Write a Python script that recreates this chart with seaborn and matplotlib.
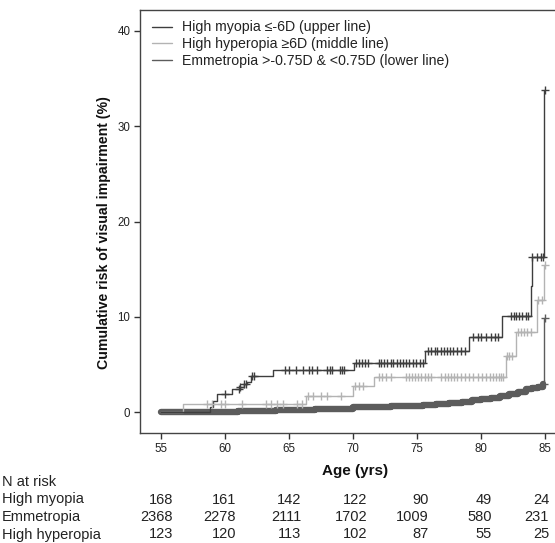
import numpy as np
import pandas as pd
import matplotlib
matplotlib.use("Agg")
import matplotlib.pyplot as plt
import seaborn as sns
from matplotlib.lines import Line2D

# ---------------- data ----------------
# High myopia (upper line): step times (age) and cumulative risk (%)
myo_age = [55.0, 58.85, 59.06, 59.37, 60.55, 61.2, 61.46, 61.73, 62.06, 63.77,
           70.09, 75.67, 79.04, 81.66, 83.91, 84.0, 84.98]
myo_risk = [0.0, 0.6, 1.2, 1.9, 2.4, 2.7, 3.0, 3.2, 3.8, 4.4,
            5.2, 6.4, 7.9, 10.1, 13.2, 16.3, 33.8]
myo_cens = [60.0, 61.07, 61.2, 61.46, 61.6, 62.12, 62.24,
            64.66, 64.97, 65.57, 66.08, 66.56, 66.83, 67.22, 68.0, 68.2, 68.4,
            68.97, 69.13, 69.29, 70.23, 70.46, 70.7, 70.93, 71.15,
            72.03, 72.18, 72.43, 72.66, 72.97, 73.13, 73.45, 73.68, 73.92,
            74.15, 74.39, 74.7, 74.94, 75.25, 75.49,
            75.88, 76.11, 76.43, 76.59, 76.9, 77.13, 77.37, 77.61, 77.84,
            78.16, 78.47, 78.78,
            79.41, 79.8, 80.04, 80.43, 80.82, 81.14, 81.37,
            82.39, 82.63, 82.79, 83.02, 83.26, 83.57, 83.73,
            84.04, 84.36, 84.67, 84.9, 85.0]

# High hyperopia (middle line)
hyp_age = [55.0, 56.75, 66.3, 69.97, 71.62, 82.0, 82.79, 84.36, 84.98]
hyp_risk = [0.0, 0.84, 1.74, 2.76, 3.67, 5.9, 8.45, 11.8, 15.4]
hyp_cens = [58.61, 58.98, 59.71, 60.02, 61.33, 63.22, 63.56, 64.08, 64.55,
            65.65, 65.99, 66.48, 66.91, 67.48, 68.01, 69.05,
            70.15, 70.46, 70.78, 72.03, 72.27, 72.58, 72.97,
            74.15, 74.39, 74.62, 74.86, 75.09, 75.33, 75.65, 75.88, 76.11,
            76.9, 77.21, 77.45, 77.68, 77.92, 78.16, 78.47, 78.78, 79.1, 79.41,
            79.8, 80.12, 80.43, 80.75, 80.98, 81.22, 81.45, 81.61, 81.77,
            82.08, 82.24, 82.47, 82.94, 83.18, 83.34, 83.65, 83.89,
            84.51, 84.75, 85.0]

# Emmetropia (lower line)
emm_age = [55.0, 56.5, 58.0, 59.5, 61.0, 62.5, 64.0, 65.5, 67.0, 68.5, 70.0,
           71.5, 73.0, 74.5, 75.5, 76.5, 77.5, 78.5, 79.3, 80.0, 80.8, 81.5,
           82.2, 82.9, 83.5, 84.0, 84.5, 84.9, 84.98]
emm_risk = [0.0, 0.02, 0.05, 0.08, 0.11, 0.15, 0.2, 0.25, 0.32, 0.38, 0.52,
            0.58, 0.63, 0.68, 0.8, 0.9, 1.0, 1.1, 1.3, 1.4, 1.55, 1.75,
            1.95, 2.15, 2.4, 2.55, 2.7, 2.95, 9.9]
emm_cens = [84.95, 85.0]

# number at risk table
risk_times = [55, 60, 65, 70, 75, 80, 85]
risk_groups = ["High myopia", "Emmetropia", "High hyperopia"]
nrisk_myopia = [168, 161, 142, 122, 90, 49, 24]
nrisk_emmetropia = [2368, 2278, 2111, 1702, 1009, 580, 231]
nrisk_hyperopia = [123, 120, 113, 102, 87, 55, 25]

legend_labels = ["High myopia \u2264-6D (upper line)",
                 "High hyperopia \u22656D (middle line)",
                 "Emmetropia >-0.75D & <0.75D (lower line)"]

# ---------------- style ----------------
sns.set_style("ticks")
plt.rcParams["font.family"] = ["Liberation Sans", "DejaVu Sans"]

C_MYO = "#3e3e3e"
C_HYP = "#b3b3b3"
C_EMM = "#5c5c5c"

W, H = 555, 543
fig = plt.figure(figsize=(W / 100, H / 100), dpi=100)
ax = fig.add_axes([140 / W, (H - 432.8) / H, (562 - 140) / W, (432.8 - 10) / H])


def step_value(ages, risks, t):
    idx = np.searchsorted(np.asarray(ages), np.asarray(t), side="right") - 1
    return np.asarray(risks)[idx]


# Emmetropia: thick band (dense censoring) then thin final jump
sns.lineplot(x=emm_age[:-1], y=emm_risk[:-1], drawstyle="steps-post", color=C_EMM,
             linewidth=4.6, ax=ax, estimator=None)
sns.lineplot(x=emm_age, y=emm_risk, drawstyle="steps-post", color=C_EMM,
             linewidth=1.0, ax=ax, estimator=None)
sns.lineplot(x=hyp_age, y=hyp_risk, drawstyle="steps-post", color=C_HYP,
             linewidth=1.0, ax=ax, estimator=None)
sns.lineplot(x=myo_age, y=myo_risk, drawstyle="steps-post", color=C_MYO,
             linewidth=1.0, ax=ax, estimator=None)

# censor marks
for ages, risks, cens, col in [(myo_age, myo_risk, myo_cens, C_MYO),
                               (hyp_age, hyp_risk, hyp_cens, C_HYP),
                               (emm_age, emm_risk, emm_cens, C_EMM)]:
    cy = step_value(ages, risks, cens)
    ax.plot(cens, cy, linestyle="none", marker="|", markersize=6,
            markeredgewidth=1.0, color=col)
    ax.plot(cens, cy, linestyle="none", marker="_", markersize=5.5,
            markeredgewidth=1.0, color=col)

ax.set_xlim(53.35, 86.35)
ax.set_ylim(-2.15, 42.2)
ax.set_xticks(risk_times)
ax.set_yticks([0, 10, 20, 30, 40])
ax.tick_params(axis="both", labelsize=8.3, length=4, width=1, color="#333333",
               labelcolor="#222222", pad=3)
for sp in ax.spines.values():
    sp.set_color("#444444")
    sp.set_linewidth(1.0)
ax.set_xlabel("")
ax.set_ylabel("")

fig.text(104 / W, 1 - 233 / H, "Cumulative risk of visual impairment (%)",
         rotation=90, ha="center", va="center", fontsize=10.2, fontweight="bold",
         color="#111111")
fig.text(355 / W, 1 - 471 / H, "Age (yrs)", ha="center", va="center",
         fontsize=11, fontweight="bold", color="#111111")

# legend
handles = [Line2D([], [], color=C_MYO, lw=1.0),
           Line2D([], [], color=C_HYP, lw=1.0),
           Line2D([], [], color=C_EMM, lw=1.0)]
leg = ax.legend(handles, legend_labels, loc="upper left", frameon=False,
                bbox_to_anchor=(152 / W, 1 - 20.5 / H), bbox_transform=fig.transFigure,
                borderaxespad=0, borderpad=0, handlelength=1.4, handletextpad=0.72,
                labelspacing=0.2, fontsize=10.2)
for t in leg.get_texts():
    t.set_color("#222222")

# number at risk table
row_y = [482, 499.5, 517, 534.5]
fig.text(2 / W, 1 - row_y[0] / H, "N at risk", ha="left", va="center",
         fontsize=10.5, color="#222222")
col_right = [173, 236, 301, 367, 429, 492, 549]
for r, (name, vals) in enumerate(zip(risk_groups,
                                     [nrisk_myopia, nrisk_emmetropia, nrisk_hyperopia])):
    yy = 1 - row_y[r + 1] / H
    fig.text(2 / W, yy, name, ha="left", va="center", fontsize=10.5, color="#222222")
    for xr, v in zip(col_right, vals):
        fig.text(xr / W, yy, str(v), ha="right", va="center", fontsize=10.5,
                 color="#222222")

fig.savefig("out.png", dpi=100)
